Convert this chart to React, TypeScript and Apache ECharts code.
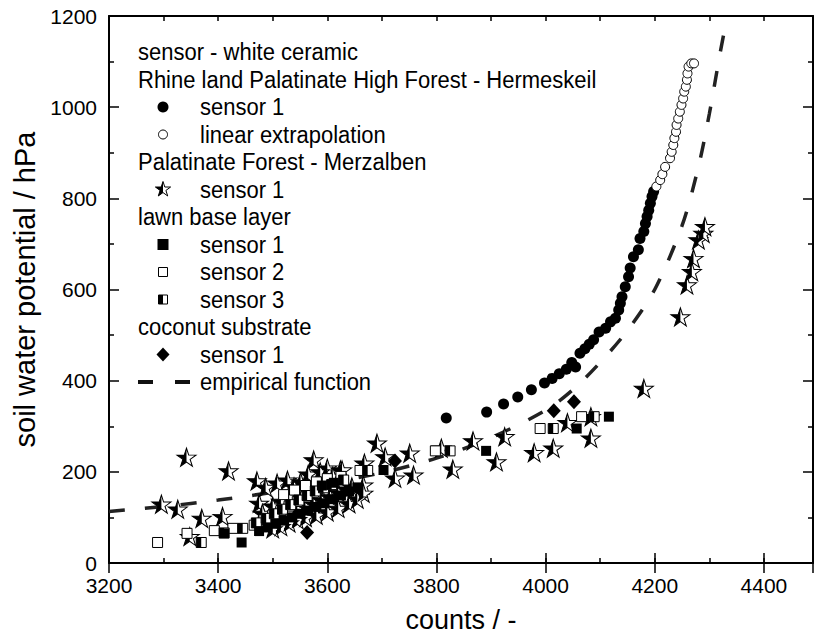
import React, { useEffect, useRef } from 'react';
import * as echarts from 'echarts';

// ---------- data (counts, soil water potential hPa) ----------
const hermeskeilSensor1: number[][] = [
  [3818, 318], [3892, 331], [3923, 349], [3949, 364], [3974, 380], [3998, 395],
  [4012, 405], [4025, 415], [4038, 425], [4048, 440], [4055, 430], [4063, 460],
  [4072, 470], [4080, 480], [4088, 490], [4098, 507], [4110, 515], [4119, 529],
  [4128, 537], [4134, 555], [4137, 570], [4140, 584], [4146, 606], [4152, 628],
  [4155, 647], [4161, 672], [4170, 687], [4173, 712], [4180, 727], [4183, 745],
  [4186, 760], [4189, 774], [4192, 789], [4195, 804], [4198, 815],
];
const linearExtrapolation: number[][] = [
  [4203, 826], [4210, 840], [4214, 853], [4219, 869], [4228, 888], [4231, 902],
  [4234, 917], [4236, 932], [4239, 946], [4240, 961], [4243, 975], [4246, 990],
  [4249, 1005], [4252, 1019], [4254, 1034], [4257, 1045], [4259, 1060],
  [4260, 1074], [4262, 1089], [4267, 1096], [4272, 1096],
];
const merzalbenSensor1: number[][] = [
  [3296, 129], [3326, 118], [3342, 232], [3419, 202], [3370, 98], [3408, 102], [3348, 58],
  [3471, 180], [3487, 166], [3508, 175], [3527, 182], [3539, 167], [3551, 178],
  [3575, 226], [3600, 208], [3624, 204], [3475, 131], [3481, 109], [3500, 125],
  [3515, 135], [3530, 145], [3548, 150], [3562, 160], [3585, 165], [3595, 180],
  [3610, 190], [3505, 100], [3525, 110], [3545, 118], [3560, 125], [3575, 130],
  [3590, 138], [3605, 145], [3620, 155], [3635, 162], [3645, 167], [3666, 171],
  [3666, 153], [3627, 204], [3668, 219], [3560, 100], [3580, 105], [3600, 112],
  [3620, 120], [3640, 130], [3655, 140], [3545, 95], [3530, 88], [3515, 80],
  [3500, 75], [3565, 195], [3587, 200],
  [3691, 263], [3706, 233], [3751, 241], [3724, 186], [3758, 193], [3809, 252],
  [3830, 206], [3867, 268], [3925, 277], [3910, 222], [3979, 242], [4014, 252],
  [4040, 308], [4083, 321], [4083, 274], [4180, 383], [4247, 540], [4259, 610],
  [4268, 639], [4271, 668], [4280, 709], [4289, 723], [4292, 738],
];
const lawnSensor1: number[][] = [
  [3443, 45], [3411, 65], [3475, 70], [3490, 78], [3505, 86], [3520, 93], [3535, 100],
  [3550, 108], [3565, 115], [3580, 123], [3595, 131], [3610, 140], [3625, 148],
  [3640, 157], [3655, 165], [3612, 176], [3590, 170], [3703, 204], [3891, 246],
  [4057, 295], [4116, 321],
];
const lawnSensor2: number[][] = [
  [3289, 45], [3343, 65], [3393, 71], [3427, 76], [3466, 83], [3484, 95], [3500, 105],
  [3515, 115], [3530, 125], [3545, 135], [3560, 145], [3575, 155], [3520, 150],
  [3540, 160], [3560, 170], [3580, 178], [3600, 185], [3625, 190], [3660, 203],
  [3798, 246], [3990, 295], [4066, 321],
];
const lawnSensor3: number[][] = [
  [3369, 45], [3411, 66], [3445, 76], [3470, 88], [3488, 98], [3503, 108], [3518, 118],
  [3533, 128], [3548, 138], [3563, 148], [3578, 158], [3593, 165], [3608, 172],
  [3630, 182], [3674, 203], [3825, 246], [4014, 295], [4089, 321],
];
const coconutSensor1: number[][] = [
  [3563, 67], [3724, 224], [4015, 334], [4052, 354],
];
const empiricalFunction: number[][] = [
  [3200, 113], [3300, 124], [3400, 138], [3500, 155], [3600, 175], [3700, 198],
  [3800, 230], [3900, 275], [4000, 335], [4050, 380], [4100, 440], [4150, 510],
  [4200, 600], [4250, 740], [4280, 869], [4300, 985], [4320, 1120], [4333, 1200],
];
const legendRows: string[] = [
  'sensor - white ceramic',
  'Rhine land Palatinate High Forest - Hermeskeil',
  'sensor 1',
  'linear extrapolation',
  'Palatinate Forest - Merzalben',
  'sensor 1',
  'lawn base layer',
  'sensor 1',
  'sensor 2',
  'sensor 3',
  'coconut substrate',
  'sensor 1',
  'empirical function',
];
const legendMarkers: string[] = [
  '', '', 'dot', 'ring', '', 'star', '', 'square', 'openSquare', 'halfSquare', '', 'diamond', 'dash',
];
const xLabelTicks = [3200, 3400, 3600, 3800, 4000, 4200, 4400];

// ---------- styling ----------
const FONT = 'Liberation Sans, Arial, Helvetica, sans-serif';
const STAR =
  'path://M50 0L61.23 34.55L97.55 34.55L68.16 55.9L79.39 90.45L50 69.1L20.61 90.45L31.84 55.9L2.45 34.55L38.77 34.55Z';
const STAR_LEFT =
  'path://M50 0L50 69.1L20.61 90.45L31.84 55.9L2.45 34.55L38.77 34.55Z M97.55 90.45L97.55 90.45Z';
const SQUARE_LEFT = 'path://M0 0L50 0L50 100L0 100Z M100 100L100 100Z';
const X_MIN = 3200;
const X_MAX = 4490;

function starPts(cx: number, cy: number, R: number, leftOnly = false): number[][] {
  const r = R * 0.382;
  const pts: number[][] = [];
  for (let i = 0; i < 10; i++) {
    const ang = -Math.PI / 2 + (i * Math.PI) / 5;
    const rad = i % 2 === 0 ? R : r;
    pts.push([cx + rad * Math.cos(ang), cy + rad * Math.sin(ang)]);
  }
  if (!leftOnly) return pts;
  return [pts[0], pts[5], pts[6], pts[7], pts[8], pts[9]];
}

function buildLegend(): any[] {
  const els: any[] = [];
  const y0 = 52;
  const dy = 27.5;
  const mx = 163;
  legendRows.forEach((t, i) => {
    const y = y0 + dy * i;
    const m = legendMarkers[i];
    const indent = m !== '';
    els.push({
      type: 'text',
      x: indent ? 200 : 138,
      y,
      scaleY: 1.12,
      style: { text: t, fontSize: 22, fontFamily: FONT, fill: '#000', verticalAlign: 'middle', align: 'left' },
      silent: true,
    });
    if (m === 'dot') {
      els.push({ type: 'circle', shape: { cx: mx, cy: y, r: 5.5 }, style: { fill: '#000' }, silent: true });
    } else if (m === 'ring') {
      els.push({ type: 'circle', shape: { cx: mx, cy: y, r: 4.5 }, style: { fill: '#fff', stroke: '#000', lineWidth: 1 }, silent: true });
    } else if (m === 'star') {
      els.push({ type: 'polygon', shape: { points: starPts(mx, y, 8) }, style: { fill: '#fff', stroke: '#000', lineWidth: 1 }, silent: true });
      els.push({ type: 'polygon', shape: { points: starPts(mx, y, 8, true) }, style: { fill: '#000' }, silent: true });
    } else if (m === 'square') {
      els.push({ type: 'rect', shape: { x: mx - 5.5, y: y - 5.5, width: 11, height: 11 }, style: { fill: '#000' }, silent: true });
    } else if (m === 'openSquare') {
      els.push({ type: 'rect', shape: { x: mx - 4.5, y: y - 4.5, width: 9, height: 9 }, style: { fill: '#fff', stroke: '#000', lineWidth: 1 }, silent: true });
    } else if (m === 'halfSquare') {
      els.push({ type: 'rect', shape: { x: mx - 4.5, y: y - 4.5, width: 9, height: 9 }, style: { fill: '#fff', stroke: '#000', lineWidth: 1 }, silent: true });
      els.push({ type: 'rect', shape: { x: mx - 4.5, y: y - 4.5, width: 4.5, height: 9 }, style: { fill: '#000' }, silent: true });
    } else if (m === 'diamond') {
      els.push({ type: 'polygon', shape: { points: [[mx, y - 7], [mx + 6.5, y], [mx, y + 7], [mx - 6.5, y]] }, style: { fill: '#000' }, silent: true });
    } else if (m === 'dash') {
      els.push({ type: 'line', shape: { x1: 138, y1: y, x2: 192, y2: y }, style: { stroke: '#111', lineWidth: 4, lineDash: [15, 22] }, silent: true });
    }
  });
  return els;
}

const axisLineStyle = { color: '#000', width: 2 };
const tickLineStyle = { color: '#000', width: 1.5 };
const labelFmt = (v: number) => (xLabelTicks.indexOf(v) >= 0 ? String(v) : '');

function xAxes(): any[] {
  const common = { type: 'value', min: X_MIN, max: X_MAX, splitLine: { show: false } };
  return [
    {
      ...common, position: 'bottom', interval: 100,
      axisLine: { show: true, onZero: false, lineStyle: axisLineStyle },
      axisTick: { show: true, inside: true, length: 5, lineStyle: tickLineStyle },
      axisLabel: { formatter: labelFmt, fontSize: 21, fontFamily: FONT, color: '#000', margin: 12 },
      name: 'counts / -', nameLocation: 'middle', nameGap: 43,
      nameTextStyle: { fontSize: 27, fontFamily: FONT, color: '#000' },
    },
    {
      ...common, position: 'bottom', interval: 200,
      axisLine: { show: false }, axisLabel: { show: false },
      axisTick: { show: true, inside: true, length: 10, lineStyle: tickLineStyle },
    },
    {
      ...common, position: 'top', interval: 100,
      axisLine: { show: true, onZero: false, lineStyle: axisLineStyle },
      axisTick: { show: true, inside: true, length: 5, lineStyle: tickLineStyle },
      axisLabel: { show: false },
    },
    {
      ...common, position: 'top', interval: 200,
      axisLine: { show: false }, axisLabel: { show: false },
      axisTick: { show: true, inside: true, length: 10, lineStyle: tickLineStyle },
    },
  ];
}

function yAxes(): any[] {
  const common = {
    type: 'value', min: 0, max: 1200, interval: 200, splitLine: { show: false },
    axisLine: { show: true, onZero: false, lineStyle: axisLineStyle },
    axisTick: { show: true, inside: true, length: 10, lineStyle: tickLineStyle },
    minorTick: { show: true, splitNumber: 2, length: 5, lineStyle: tickLineStyle },
  };
  return [
    {
      ...common, position: 'left',
      axisLabel: { fontSize: 21, fontFamily: FONT, color: '#000', margin: 12, formatter: (v: number) => String(v) },
      name: 'soil water potential / hPa', nameLocation: 'middle', nameGap: 66,
      nameTextStyle: { fontSize: 29, fontFamily: FONT, color: '#000' },
    },
    { ...common, position: 'right', axisLabel: { show: false } },
  ];
}

export default function App() {
  const ref = useRef<HTMLDivElement>(null);
  useEffect(() => {
    if (!ref.current) return;
    const chart = echarts.init(ref.current, undefined, { renderer: 'svg' });
    const starSize = [19, 18];
    const solid = { opacity: 1 };
    chart.setOption({
      animation: false,
      grid: { left: 109, right: -2, top: 16, bottom: 78 },
      xAxis: xAxes(),
      yAxis: yAxes(),
      graphic: buildLegend(),
      series: [
        {
          type: 'line', data: empiricalFunction, showSymbol: false, smooth: 0.3, silent: true,
          lineStyle: { color: '#222', width: 3.5, type: [16, 20] }, z: 1,
        },
        {
          type: 'scatter', data: merzalbenSensor1, symbol: STAR, symbolSize: starSize, silent: true,
          itemStyle: { ...solid, color: '#fff', borderColor: '#000', borderWidth: 1 },
        },
        {
          type: 'scatter', data: merzalbenSensor1, symbol: STAR_LEFT, symbolSize: starSize, silent: true,
          itemStyle: { ...solid, color: '#000' },
        },
        {
          type: 'scatter', data: lawnSensor2, symbol: 'rect', symbolSize: 10, silent: true,
          itemStyle: { ...solid, color: '#fff', borderColor: '#000', borderWidth: 1 },
        },
        {
          type: 'scatter', data: lawnSensor3, symbol: 'rect', symbolSize: 10, silent: true,
          itemStyle: { ...solid, color: '#fff', borderColor: '#000', borderWidth: 1 },
        },
        {
          type: 'scatter', data: lawnSensor3, symbol: SQUARE_LEFT, symbolSize: 10, silent: true,
          itemStyle: { ...solid, color: '#000' },
        },
        {
          type: 'scatter', data: lawnSensor1, symbol: 'rect', symbolSize: 10, silent: true,
          itemStyle: { ...solid, color: '#000' },
        },
        {
          type: 'scatter', data: coconutSensor1, symbol: 'diamond', symbolSize: [14, 15], silent: true,
          itemStyle: { ...solid, color: '#000' },
        },
        {
          type: 'scatter', data: hermeskeilSensor1, symbol: 'circle', symbolSize: 11, silent: true,
          itemStyle: { ...solid, color: '#000' },
        },
        {
          type: 'scatter', data: linearExtrapolation, symbol: 'circle', symbolSize: 9, silent: true,
          itemStyle: { ...solid, color: '#fff', borderColor: '#000', borderWidth: 1 },
        },
      ],
    });
    return () => chart.dispose();
  }, []);
  return (
    <div
      ref={ref}
      style={{ position: 'absolute', left: 0, top: 0, width: 816, height: 641, background: '#fff' }}
    />
  );
}
